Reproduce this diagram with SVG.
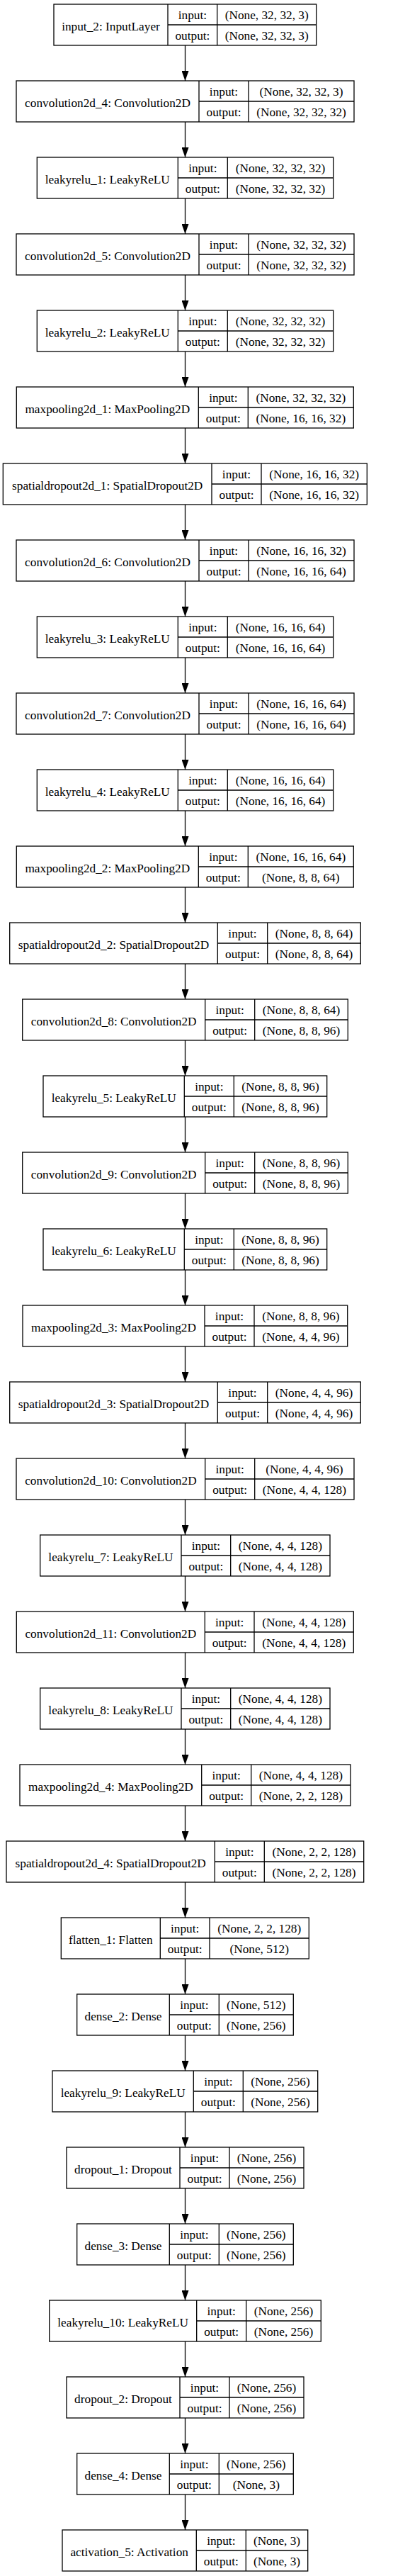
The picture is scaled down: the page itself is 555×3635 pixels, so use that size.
<svg xmlns="http://www.w3.org/2000/svg" width="555" height="3635" viewBox="0 0 555 3635">
<style>
.b{fill:#fff;stroke:#000;stroke-width:1.3}
.l{stroke:#000;stroke-width:1.3;fill:none}
text{font-family:"Liberation Serif","Times New Roman",serif;font-size:17.3px;text-anchor:middle;fill:#000}
.c{stroke:#000;stroke-width:1.3;fill:none;marker-end:url(#ah)}
</style>
<defs>
<marker id="ah" markerUnits="userSpaceOnUse" markerWidth="14" markerHeight="10" refX="14" refY="5" orient="auto" viewBox="0 0 14 10">
<path d="M0,0 L14,5 L0,10 Z" fill="#000"/>
</marker>
</defs>
<rect width="555" height="3635" fill="#fff"/>
<g id="connectors">
<path class="c" d="M261.5,64 V114"/>
<path class="c" d="M261.5,172 V222"/>
<path class="c" d="M261.5,280 V330"/>
<path class="c" d="M261.5,388 V438"/>
<path class="c" d="M261.5,496 V546"/>
<path class="c" d="M261.5,604 V654"/>
<path class="c" d="M261.5,712 V762"/>
<path class="c" d="M261.5,820 V870"/>
<path class="c" d="M261.5,928 V978"/>
<path class="c" d="M261.5,1036 V1086"/>
<path class="c" d="M261.5,1144 V1194"/>
<path class="c" d="M261.5,1252 V1302"/>
<path class="c" d="M261.5,1360 V1410"/>
<path class="c" d="M261.5,1468 V1518"/>
<path class="c" d="M261.5,1576 V1626"/>
<path class="c" d="M261.5,1684 V1734"/>
<path class="c" d="M261.5,1792 V1842"/>
<path class="c" d="M261.5,1900 V1950"/>
<path class="c" d="M261.5,2008 V2058"/>
<path class="c" d="M261.5,2116 V2166"/>
<path class="c" d="M261.5,2224 V2274"/>
<path class="c" d="M261.5,2332 V2382"/>
<path class="c" d="M261.5,2440 V2490"/>
<path class="c" d="M261.5,2548 V2598"/>
<path class="c" d="M261.5,2656 V2706"/>
<path class="c" d="M261.5,2764 V2814"/>
<path class="c" d="M261.5,2872 V2922"/>
<path class="c" d="M261.5,2980 V3030"/>
<path class="c" d="M261.5,3088 V3138"/>
<path class="c" d="M261.5,3196 V3246"/>
<path class="c" d="M261.5,3304 V3354"/>
<path class="c" d="M261.5,3412 V3462"/>
<path class="c" d="M261.5,3520 V3570"/>
</g>
<g id="input_2" transform="translate(0,6)">
<rect class="b" x="76" y="0" width="370.7" height="58"/>
<path class="l" d="M237,0 V58 M306.7,0 V58 M237,29 H446.7"/>
<text x="156.5" y="36.5">input_2: InputLayer</text>
<text x="271.9" y="21">input:</text><text x="271.9" y="50">output:</text>
<text x="376.7" y="21">(None, 32, 32, 3)</text><text x="376.7" y="50">(None, 32, 32, 3)</text>
</g>
<g id="convolution2d_4" transform="translate(0,114)">
<rect class="b" x="23" y="0" width="477" height="58"/>
<path class="l" d="M281,0 V58 M351,0 V58 M281,29 H500"/>
<text x="152" y="36.5">convolution2d_4: Convolution2D</text>
<text x="316" y="21">input:</text><text x="316" y="50">output:</text>
<text x="425.5" y="21">(None, 32, 32, 3)</text><text x="425.5" y="50">(None, 32, 32, 32)</text>
</g>
<g id="leakyrelu_1" transform="translate(0,222)">
<rect class="b" x="52.3" y="0" width="418.4" height="58"/>
<path class="l" d="M251.3,0 V58 M321.3,0 V58 M251.3,29 H470.7"/>
<text x="151.8" y="36.5">leakyrelu_1: LeakyReLU</text>
<text x="286.3" y="21">input:</text><text x="286.3" y="50">output:</text>
<text x="396" y="21">(None, 32, 32, 32)</text><text x="396" y="50">(None, 32, 32, 32)</text>
</g>
<g id="convolution2d_5" transform="translate(0,330)">
<rect class="b" x="23" y="0" width="477" height="58"/>
<path class="l" d="M281,0 V58 M351,0 V58 M281,29 H500"/>
<text x="152" y="36.5">convolution2d_5: Convolution2D</text>
<text x="316" y="21">input:</text><text x="316" y="50">output:</text>
<text x="425.5" y="21">(None, 32, 32, 32)</text><text x="425.5" y="50">(None, 32, 32, 32)</text>
</g>
<g id="leakyrelu_2" transform="translate(0,438)">
<rect class="b" x="52.3" y="0" width="418.4" height="58"/>
<path class="l" d="M251.3,0 V58 M321.3,0 V58 M251.3,29 H470.7"/>
<text x="151.8" y="36.5">leakyrelu_2: LeakyReLU</text>
<text x="286.3" y="21">input:</text><text x="286.3" y="50">output:</text>
<text x="396" y="21">(None, 32, 32, 32)</text><text x="396" y="50">(None, 32, 32, 32)</text>
</g>
<g id="maxpooling2d_1" transform="translate(0,546)">
<rect class="b" x="23.3" y="0" width="476" height="58"/>
<path class="l" d="M280.3,0 V58 M350.3,0 V58 M280.3,29 H499.3"/>
<text x="151.8" y="36.5">maxpooling2d_1: MaxPooling2D</text>
<text x="315.3" y="21">input:</text><text x="315.3" y="50">output:</text>
<text x="424.8" y="21">(None, 32, 32, 32)</text><text x="424.8" y="50">(None, 16, 16, 32)</text>
</g>
<g id="spatialdropout2d_1" transform="translate(0,654)">
<rect class="b" x="4.3" y="0" width="514" height="58"/>
<path class="l" d="M299,0 V58 M369,0 V58 M299,29 H518.3"/>
<text x="151.7" y="36.5">spatialdropout2d_1: SpatialDropout2D</text>
<text x="334" y="21">input:</text><text x="334" y="50">output:</text>
<text x="443.7" y="21">(None, 16, 16, 32)</text><text x="443.7" y="50">(None, 16, 16, 32)</text>
</g>
<g id="convolution2d_6" transform="translate(0,762)">
<rect class="b" x="23" y="0" width="477" height="58"/>
<path class="l" d="M281,0 V58 M351,0 V58 M281,29 H500"/>
<text x="152" y="36.5">convolution2d_6: Convolution2D</text>
<text x="316" y="21">input:</text><text x="316" y="50">output:</text>
<text x="425.5" y="21">(None, 16, 16, 32)</text><text x="425.5" y="50">(None, 16, 16, 64)</text>
</g>
<g id="leakyrelu_3" transform="translate(0,870)">
<rect class="b" x="52.3" y="0" width="418.4" height="58"/>
<path class="l" d="M251.3,0 V58 M321.3,0 V58 M251.3,29 H470.7"/>
<text x="151.8" y="36.5">leakyrelu_3: LeakyReLU</text>
<text x="286.3" y="21">input:</text><text x="286.3" y="50">output:</text>
<text x="396" y="21">(None, 16, 16, 64)</text><text x="396" y="50">(None, 16, 16, 64)</text>
</g>
<g id="convolution2d_7" transform="translate(0,978)">
<rect class="b" x="23" y="0" width="477" height="58"/>
<path class="l" d="M281,0 V58 M351,0 V58 M281,29 H500"/>
<text x="152" y="36.5">convolution2d_7: Convolution2D</text>
<text x="316" y="21">input:</text><text x="316" y="50">output:</text>
<text x="425.5" y="21">(None, 16, 16, 64)</text><text x="425.5" y="50">(None, 16, 16, 64)</text>
</g>
<g id="leakyrelu_4" transform="translate(0,1086)">
<rect class="b" x="52.3" y="0" width="418.4" height="58"/>
<path class="l" d="M251.3,0 V58 M321.3,0 V58 M251.3,29 H470.7"/>
<text x="151.8" y="36.5">leakyrelu_4: LeakyReLU</text>
<text x="286.3" y="21">input:</text><text x="286.3" y="50">output:</text>
<text x="396" y="21">(None, 16, 16, 64)</text><text x="396" y="50">(None, 16, 16, 64)</text>
</g>
<g id="maxpooling2d_2" transform="translate(0,1194)">
<rect class="b" x="23.3" y="0" width="476" height="58"/>
<path class="l" d="M280.3,0 V58 M350.3,0 V58 M280.3,29 H499.3"/>
<text x="151.8" y="36.5">maxpooling2d_2: MaxPooling2D</text>
<text x="315.3" y="21">input:</text><text x="315.3" y="50">output:</text>
<text x="424.8" y="21">(None, 16, 16, 64)</text><text x="424.8" y="50">(None, 8, 8, 64)</text>
</g>
<g id="spatialdropout2d_2" transform="translate(0,1302)">
<rect class="b" x="13.7" y="0" width="495.6" height="58"/>
<path class="l" d="M307.3,0 V58 M377.7,0 V58 M307.3,29 H509.3"/>
<text x="160.5" y="36.5">spatialdropout2d_2: SpatialDropout2D</text>
<text x="342.5" y="21">input:</text><text x="342.5" y="50">output:</text>
<text x="443.5" y="21">(None, 8, 8, 64)</text><text x="443.5" y="50">(None, 8, 8, 64)</text>
</g>
<g id="convolution2d_8" transform="translate(0,1410)">
<rect class="b" x="31.7" y="0" width="459.6" height="58"/>
<path class="l" d="M289.7,0 V58 M359.7,0 V58 M289.7,29 H491.3"/>
<text x="160.7" y="36.5">convolution2d_8: Convolution2D</text>
<text x="324.7" y="21">input:</text><text x="324.7" y="50">output:</text>
<text x="425.5" y="21">(None, 8, 8, 64)</text><text x="425.5" y="50">(None, 8, 8, 96)</text>
</g>
<g id="leakyrelu_5" transform="translate(0,1518)">
<rect class="b" x="61" y="0" width="400.7" height="58"/>
<path class="l" d="M260.3,0 V58 M330.3,0 V58 M260.3,29 H461.7"/>
<text x="160.7" y="36.5">leakyrelu_5: LeakyReLU</text>
<text x="295.3" y="21">input:</text><text x="295.3" y="50">output:</text>
<text x="396" y="21">(None, 8, 8, 96)</text><text x="396" y="50">(None, 8, 8, 96)</text>
</g>
<g id="convolution2d_9" transform="translate(0,1626)">
<rect class="b" x="31.7" y="0" width="459.6" height="58"/>
<path class="l" d="M289.7,0 V58 M359.7,0 V58 M289.7,29 H491.3"/>
<text x="160.7" y="36.5">convolution2d_9: Convolution2D</text>
<text x="324.7" y="21">input:</text><text x="324.7" y="50">output:</text>
<text x="425.5" y="21">(None, 8, 8, 96)</text><text x="425.5" y="50">(None, 8, 8, 96)</text>
</g>
<g id="leakyrelu_6" transform="translate(0,1734)">
<rect class="b" x="61" y="0" width="400.7" height="58"/>
<path class="l" d="M260.3,0 V58 M330.3,0 V58 M260.3,29 H461.7"/>
<text x="160.7" y="36.5">leakyrelu_6: LeakyReLU</text>
<text x="295.3" y="21">input:</text><text x="295.3" y="50">output:</text>
<text x="396" y="21">(None, 8, 8, 96)</text><text x="396" y="50">(None, 8, 8, 96)</text>
</g>
<g id="maxpooling2d_3" transform="translate(0,1842)">
<rect class="b" x="32" y="0" width="458.7" height="58"/>
<path class="l" d="M289,0 V58 M359,0 V58 M289,29 H490.7"/>
<text x="160.5" y="36.5">maxpooling2d_3: MaxPooling2D</text>
<text x="324" y="21">input:</text><text x="324" y="50">output:</text>
<text x="424.9" y="21">(None, 8, 8, 96)</text><text x="424.9" y="50">(None, 4, 4, 96)</text>
</g>
<g id="spatialdropout2d_3" transform="translate(0,1950)">
<rect class="b" x="13.7" y="0" width="495.6" height="58"/>
<path class="l" d="M307.3,0 V58 M377.7,0 V58 M307.3,29 H509.3"/>
<text x="160.5" y="36.5">spatialdropout2d_3: SpatialDropout2D</text>
<text x="342.5" y="21">input:</text><text x="342.5" y="50">output:</text>
<text x="443.5" y="21">(None, 4, 4, 96)</text><text x="443.5" y="50">(None, 4, 4, 96)</text>
</g>
<g id="convolution2d_10" transform="translate(0,2058)">
<rect class="b" x="23" y="0" width="477" height="58"/>
<path class="l" d="M289.7,0 V58 M359.7,0 V58 M289.7,29 H500"/>
<text x="156.4" y="36.5">convolution2d_10: Convolution2D</text>
<text x="324.7" y="21">input:</text><text x="324.7" y="50">output:</text>
<text x="429.9" y="21">(None, 4, 4, 96)</text><text x="429.9" y="50">(None, 4, 4, 128)</text>
</g>
<g id="leakyrelu_7" transform="translate(0,2166)">
<rect class="b" x="56.7" y="0" width="409.3" height="58"/>
<path class="l" d="M256,0 V58 M325.7,0 V58 M256,29 H466"/>
<text x="156.4" y="36.5">leakyrelu_7: LeakyReLU</text>
<text x="290.9" y="21">input:</text><text x="290.9" y="50">output:</text>
<text x="395.9" y="21">(None, 4, 4, 128)</text><text x="395.9" y="50">(None, 4, 4, 128)</text>
</g>
<g id="convolution2d_11" transform="translate(0,2274)">
<rect class="b" x="23.3" y="0" width="476" height="58"/>
<path class="l" d="M289.3,0 V58 M359,0 V58 M289.3,29 H499.3"/>
<text x="156.3" y="36.5">convolution2d_11: Convolution2D</text>
<text x="324.2" y="21">input:</text><text x="324.2" y="50">output:</text>
<text x="429.2" y="21">(None, 4, 4, 128)</text><text x="429.2" y="50">(None, 4, 4, 128)</text>
</g>
<g id="leakyrelu_8" transform="translate(0,2382)">
<rect class="b" x="56.7" y="0" width="409.3" height="58"/>
<path class="l" d="M256,0 V58 M325.7,0 V58 M256,29 H466"/>
<text x="156.4" y="36.5">leakyrelu_8: LeakyReLU</text>
<text x="290.9" y="21">input:</text><text x="290.9" y="50">output:</text>
<text x="395.9" y="21">(None, 4, 4, 128)</text><text x="395.9" y="50">(None, 4, 4, 128)</text>
</g>
<g id="maxpooling2d_4" transform="translate(0,2490)">
<rect class="b" x="28" y="0" width="467" height="58"/>
<path class="l" d="M284.7,0 V58 M354.7,0 V58 M284.7,29 H495"/>
<text x="156.4" y="36.5">maxpooling2d_4: MaxPooling2D</text>
<text x="319.7" y="21">input:</text><text x="319.7" y="50">output:</text>
<text x="424.9" y="21">(None, 4, 4, 128)</text><text x="424.9" y="50">(None, 2, 2, 128)</text>
</g>
<g id="spatialdropout2d_4" transform="translate(0,2598)">
<rect class="b" x="9" y="0" width="504.7" height="58"/>
<path class="l" d="M303.3,0 V58 M373.3,0 V58 M303.3,29 H513.7"/>
<text x="156.2" y="36.5">spatialdropout2d_4: SpatialDropout2D</text>
<text x="338.3" y="21">input:</text><text x="338.3" y="50">output:</text>
<text x="443.5" y="21">(None, 2, 2, 128)</text><text x="443.5" y="50">(None, 2, 2, 128)</text>
</g>
<g id="flatten_1" transform="translate(0,2706)">
<rect class="b" x="86.3" y="0" width="350" height="58"/>
<path class="l" d="M226.3,0 V58 M296,0 V58 M226.3,29 H436.3"/>
<text x="156.3" y="36.5">flatten_1: Flatten</text>
<text x="261.2" y="21">input:</text><text x="261.2" y="50">output:</text>
<text x="366.2" y="21">(None, 2, 2, 128)</text><text x="366.2" y="50">(None, 512)</text>
</g>
<g id="dense_2" transform="translate(0,2814)">
<rect class="b" x="108.7" y="0" width="305.6" height="58"/>
<path class="l" d="M239.3,0 V58 M309.3,0 V58 M239.3,29 H414.3"/>
<text x="174" y="36.5">dense_2: Dense</text>
<text x="274.3" y="21">input:</text><text x="274.3" y="50">output:</text>
<text x="361.8" y="21">(None, 512)</text><text x="361.8" y="50">(None, 256)</text>
</g>
<g id="leakyrelu_9" transform="translate(0,2922)">
<rect class="b" x="74" y="0" width="374.7" height="58"/>
<path class="l" d="M273.3,0 V58 M343.3,0 V58 M273.3,29 H448.7"/>
<text x="173.7" y="36.5">leakyrelu_9: LeakyReLU</text>
<text x="308.3" y="21">input:</text><text x="308.3" y="50">output:</text>
<text x="396" y="21">(None, 256)</text><text x="396" y="50">(None, 256)</text>
</g>
<g id="dropout_1" transform="translate(0,3030)">
<rect class="b" x="94" y="0" width="335" height="58"/>
<path class="l" d="M254,0 V58 M324,0 V58 M254,29 H429"/>
<text x="174" y="36.5">dropout_1: Dropout</text>
<text x="289" y="21">input:</text><text x="289" y="50">output:</text>
<text x="376.5" y="21">(None, 256)</text><text x="376.5" y="50">(None, 256)</text>
</g>
<g id="dense_3" transform="translate(0,3138)">
<rect class="b" x="108.7" y="0" width="305.6" height="58"/>
<path class="l" d="M239.3,0 V58 M309.3,0 V58 M239.3,29 H414.3"/>
<text x="174" y="36.5">dense_3: Dense</text>
<text x="274.3" y="21">input:</text><text x="274.3" y="50">output:</text>
<text x="361.8" y="21">(None, 256)</text><text x="361.8" y="50">(None, 256)</text>
</g>
<g id="leakyrelu_10" transform="translate(0,3246)">
<rect class="b" x="69.7" y="0" width="383.6" height="58"/>
<path class="l" d="M277.7,0 V58 M347.7,0 V58 M277.7,29 H453.3"/>
<text x="173.7" y="36.5">leakyrelu_10: LeakyReLU</text>
<text x="312.7" y="21">input:</text><text x="312.7" y="50">output:</text>
<text x="400.5" y="21">(None, 256)</text><text x="400.5" y="50">(None, 256)</text>
</g>
<g id="dropout_2" transform="translate(0,3354)">
<rect class="b" x="94" y="0" width="335" height="58"/>
<path class="l" d="M254,0 V58 M324,0 V58 M254,29 H429"/>
<text x="174" y="36.5">dropout_2: Dropout</text>
<text x="289" y="21">input:</text><text x="289" y="50">output:</text>
<text x="376.5" y="21">(None, 256)</text><text x="376.5" y="50">(None, 256)</text>
</g>
<g id="dense_4" transform="translate(0,3462)">
<rect class="b" x="108.7" y="0" width="305.6" height="58"/>
<path class="l" d="M239.3,0 V58 M309.3,0 V58 M239.3,29 H414.3"/>
<text x="174" y="36.5">dense_4: Dense</text>
<text x="274.3" y="21">input:</text><text x="274.3" y="50">output:</text>
<text x="361.8" y="21">(None, 256)</text><text x="361.8" y="50">(None, 3)</text>
</g>
<g id="activation_5" transform="translate(0,3570)">
<rect class="b" x="88" y="0" width="346.7" height="58"/>
<path class="l" d="M277.3,0 V58 M347.3,0 V58 M277.3,29 H434.7"/>
<text x="182.7" y="36.5">activation_5: Activation</text>
<text x="312.3" y="21">input:</text><text x="312.3" y="50">output:</text>
<text x="391" y="21">(None, 3)</text><text x="391" y="50">(None, 3)</text>
</g>
</svg>
